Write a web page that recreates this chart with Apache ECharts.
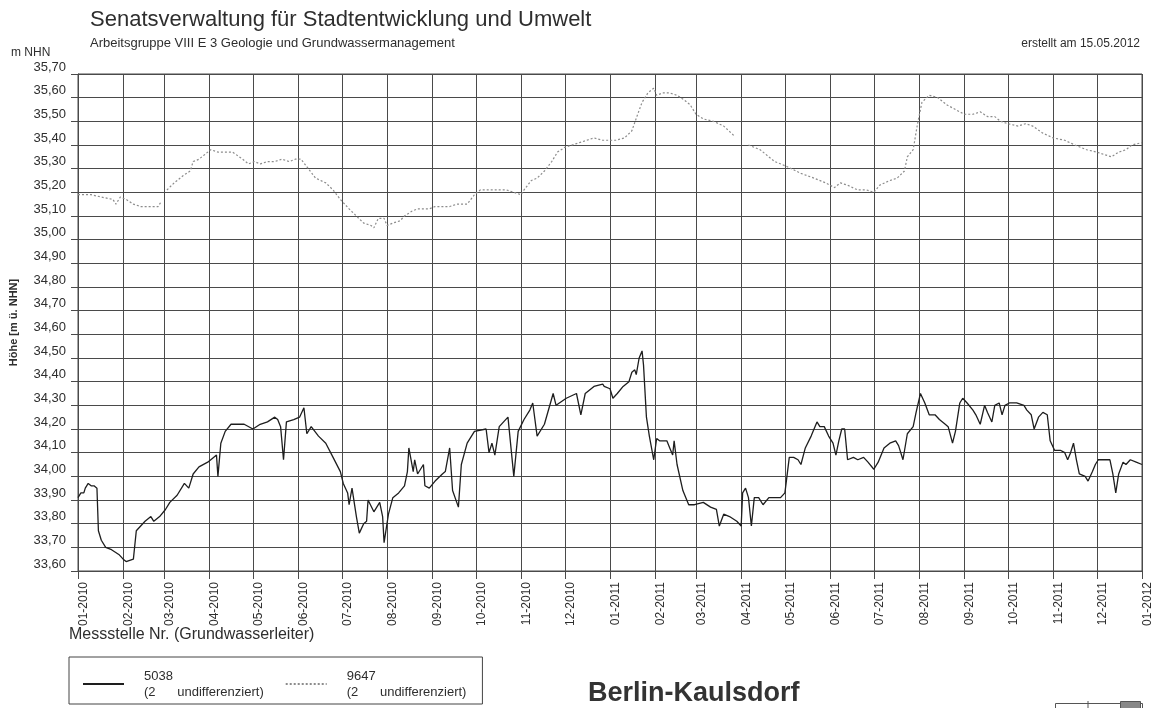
<!DOCTYPE html>
<html>
<head>
<meta charset="utf-8">
<script src="https://cdn.jsdelivr.net/npm/echarts@6/dist/echarts.min.js"></script>
<style>
html,body{margin:0;padding:0;background:#fff;}
#chart{width:1168px;height:708px;}
</style>
</head>
<body>
<div id="chart"></div>
<script>
// Month starts (days since 2010-01-01) and their tick labels
const monthStartDays = [0,31,59,90,120,151,181,212,243,273,304,334,365,396,424,455,485,516,546,577,608,638,669,699,730];
const monthLabels = ['01-2010','02-2010','03-2010','04-2010','05-2010','06-2010','07-2010','08-2010','09-2010','10-2010','11-2010','12-2010',
                     '01-2011','02-2011','03-2011','04-2011','05-2011','06-2011','07-2011','08-2011','09-2011','10-2011','11-2011','12-2011','01-2012'];

// Messstelle 5038 (solid line): day since 2010-01-01, level m NHN
const lowerDay = [0,2,4,5,7,9,11,13,14,16,19,23,28,31,33,38,40,43,46,50,52,56,60,63,68,73,76,79,83,89,93,95,96,98,101,105,109,114,120,125,130,135,137,139,141,143,148,152,155,157,160,165,170,175,180,182,185,186,188,191,193,196,198,199,203,207,209,210,213,216,220,224,226,227,230,231,233,237,238,241,245,250,252,255,257,261,263,267,272,280,282,284,286,289,292,295,299,302,306,310,312,315,320,326,328,335,342,345,348,354,360,
  361,365,367,370,374,378,380,382,383,385,387,388,390,392,395,397,399,404,406,408,409,411,415,419,423,429,434,438,440,443,447,452,455,456,458,460,462,464,467,470,474,477,482,485,486,488,491,494,496,499,503,507,509,512,515,518,520,522,524,526,528,532,535,539,542,546,549,553,557,561,563,566,569,573,575,578,581,584,588,591,595,597,600,602,605,607,610,614,616,619,622,624,627,629,632,634,636,639,644,649,651,654,656,659,662,665,667,670,674,677,679,681,683,685,687,691,693,696,698,700,704,708,710,712,714,717,719,722,726,730];
const lowerLevel = [33.91,33.93,33.93,33.95,33.97,33.96,33.96,33.95,33.77,33.73,33.70,33.69,33.67,33.65,33.64,33.65,33.77,33.79,33.81,33.83,33.81,33.83,33.86,33.89,33.92,33.97,33.95,34.01,34.04,34.06,34.08,34.09,34.00,34.14,34.19,34.22,34.22,34.22,34.20,34.22,34.23,34.25,34.24,34.21,34.07,34.23,34.24,34.25,34.29,34.18,34.21,34.17,34.14,34.08,34.02,33.97,33.93,33.88,33.95,33.83,33.76,33.80,33.81,33.90,33.85,33.89,33.83,33.72,33.84,33.91,33.93,33.96,34.02,34.12,34.02,34.07,34.01,34.05,33.96,33.95,33.98,34.01,34.02,34.12,33.94,33.87,34.05,34.14,34.19,34.20,34.10,34.14,34.09,34.21,34.23,34.25,34.00,34.19,34.24,34.28,34.31,34.17,34.22,34.35,34.30,34.33,34.35,34.26,34.35,34.38,34.39,
  34.38,34.37,34.33,34.35,34.38,34.40,34.44,34.45,34.43,34.50,34.53,34.47,34.25,34.17,34.07,34.16,34.15,34.15,34.12,34.09,34.15,34.05,33.94,33.88,33.88,33.89,33.87,33.86,33.79,33.84,33.83,33.81,33.79,33.93,33.95,33.91,33.79,33.91,33.91,33.88,33.91,33.91,33.91,33.93,33.98,34.08,34.08,34.07,34.05,34.12,34.17,34.23,34.21,34.21,34.17,34.14,34.09,34.15,34.20,34.20,34.07,34.08,34.07,34.08,34.06,34.03,34.06,34.12,34.14,34.15,34.13,34.07,34.18,34.21,34.27,34.35,34.31,34.26,34.26,34.24,34.22,34.21,34.14,34.19,34.31,34.33,34.31,34.28,34.26,34.22,34.30,34.27,34.23,34.30,34.31,34.26,34.30,34.31,34.31,34.30,34.28,34.26,34.20,34.25,34.27,34.26,34.15,34.11,34.11,34.10,34.07,34.10,34.14,34.07,34.01,34.00,33.98,34.02,34.05,34.07,34.07,34.07,34.01,33.93,34.01,34.06,34.05,34.07,34.06,34.05];

// Messstelle 9647 (dotted line): day since 2010-01-01, level m NHN (null = no data)
const upperDay = [0,9,16,24,26,29,33,38,43,50,55,57,59,61,66,72,77,79,83,87,91,96,101,106,113,117,121,125,130,135,140,145,149,153,158,163,170,175,180,186,191,196,201,203,206,210,212,216,221,224,229,233,241,245,250,255,260,267,272,276,282,289,294,299,304,306,311,315,320,325,329,334,339,344,349,354,360,
  365,369,375,380,384,387,391,395,397,401,406,411,416,420,424,429,436,443,450,455,460,468,478,486,496,505,513,519,523,528,535,541,546,550,557,562,567,569,573,576,579,584,590,596,602,608,614,619,624,629,633,638,645,650,655,662,669,677,684,692,699,704,709,714,719,723,730];
const upperLevel = [35.19,35.19,35.18,35.17,35.15,35.18,35.17,35.15,35.14,35.14,35.14,35.16,null,35.21,35.24,35.27,35.29,35.33,35.34,35.36,35.38,35.37,35.37,35.37,35.34,35.32,35.33,35.32,35.33,35.33,35.34,35.33,35.34,35.34,35.30,35.26,35.24,35.21,35.17,35.13,35.10,35.07,35.06,35.05,35.09,35.09,35.06,35.07,35.08,35.10,35.12,35.13,35.13,35.14,35.14,35.14,35.15,35.15,35.19,35.21,35.21,35.21,35.21,35.20,35.19,35.21,35.25,35.26,35.29,35.33,35.37,35.39,35.40,35.41,35.42,35.43,35.42,
  35.42,35.42,35.43,35.46,35.53,35.58,35.62,35.64,35.61,35.62,35.62,35.61,35.59,35.57,35.53,35.51,35.50,35.48,35.44,null,35.40,35.38,35.33,35.31,35.28,35.26,35.24,35.22,35.24,35.23,35.21,35.21,35.20,35.23,35.25,35.26,35.29,35.35,35.38,35.49,35.58,35.61,35.60,35.57,35.55,35.53,35.53,35.54,35.52,35.52,35.50,35.49,35.48,35.49,35.48,35.45,35.43,35.42,35.40,35.38,35.37,35.36,35.35,35.37,35.38,35.40,35.41];

const categories = [];
for (let i = 0; i <= 730; i++) categories.push(i);
const isMonthStart = (idx) => monthStartDays.indexOf(idx) >= 0;

const FONT = '"Liberation Sans", Arial, Helvetica, sans-serif';
const GRID = '#4a4a4a';
const TXT = '#2e2e2e';

const chart = echarts.init(document.getElementById('chart'));
chart.setOption({
  animation: false,
  backgroundColor: '#ffffff',
  textStyle: { fontFamily: FONT },
  title: [
    { text: 'Senatsverwaltung für Stadtentwicklung und Umwelt', left: 90, top: 9, padding: 0,
      textStyle: { fontSize: 22, fontWeight: 'normal', color: TXT, fontFamily: FONT } },
    { text: 'Arbeitsgruppe VIII E 3 Geologie und Grundwassermanagement', left: 90, top: 37, padding: 0,
      textStyle: { fontSize: 13, fontWeight: 'normal', color: TXT, fontFamily: FONT } },
    { text: 'm NHN', left: 11, top: 47, padding: 0,
      textStyle: { fontSize: 12, fontWeight: 'normal', color: TXT, fontFamily: FONT } },
    { text: 'erstellt am 15.05.2012', right: 28, top: 38, padding: 0,
      textStyle: { fontSize: 12, fontWeight: 'normal', color: TXT, fontFamily: FONT } },
    { text: 'Messstelle Nr. (Grundwasserleiter)', left: 69, top: 627, padding: 0,
      textStyle: { fontSize: 16, fontWeight: 'normal', color: TXT, fontFamily: FONT } },
    { text: 'Berlin-Kaulsdorf', left: 588, top: 680, padding: 0,
      textStyle: { fontSize: 27, fontWeight: 'bold', color: '#333', fontFamily: FONT } }
  ],
  legend: {
    left: 69, top: 657,
    padding: [11, 16, 4, 13],
    borderColor: '#444', borderWidth: 1,
    itemWidth: 41, itemHeight: 14, itemGap: 21,
    data: ['5038', '9647'],
    itemStyle: { opacity: 0, borderWidth: 0 },
    formatter: (name) => name + '\n(2      undifferenziert)',
    textStyle: { fontSize: 13, lineHeight: 16, color: TXT, fontFamily: FONT, padding: [0, 0, 0, 15] }
  },
  grid: { left: 74, right: 26, top: 74, bottom: 137, show: true, borderColor: GRID, borderWidth: 1, containLabel: false },
  xAxis: {
    type: 'category',
    data: categories,
    boundaryGap: false,
    axisLine: { show: true, lineStyle: { color: GRID, width: 1 } },
    axisTick: { show: true, length: 8, interval: (idx) => isMonthStart(idx), lineStyle: { color: GRID } },
    splitLine: { show: true, interval: (idx) => isMonthStart(idx), lineStyle: { color: GRID, width: 1 } },
    axisLabel: {
      interval: (idx) => isMonthStart(idx),
      formatter: (v, idx) => monthLabels[monthStartDays.indexOf(Number(v))] || '',
      rotate: 90, margin: 11, fontSize: 12, color: TXT, fontFamily: FONT,
      verticalAlign: 'top', align: 'right',
      showMinLabel: true, showMaxLabel: true
    }
  },
  yAxis: {
    type: 'value',
    min: 33.6, max: 35.7, interval: 0.1,
    name: 'Höhe [m ü. NHN]',
    nameLocation: 'middle', nameRotate: 90, nameGap: 59,
    nameTextStyle: { fontSize: 11, fontWeight: 'bold', color: TXT, fontFamily: FONT },
    axisLine: { show: true, lineStyle: { color: GRID, width: 1 } },
    axisTick: { show: true, length: 7, lineStyle: { color: GRID } },
    splitLine: { show: true, lineStyle: { color: GRID, width: 1 } },
    axisLabel: {
      formatter: (v) => v.toFixed(2).replace('.', ','),
      fontSize: 13, color: TXT, fontFamily: FONT, margin: 12,
      verticalAlign: 'bottom', lineHeight: 14
    }
  },
  series: [
    {
      name: '5038', type: 'line', symbol: 'none', showSymbol: false,
      data: lowerDay.map((d, i) => [d, lowerLevel[i]]),
      lineStyle: { color: '#1e1e1e', width: 1.3 },
      itemStyle: { color: '#1e1e1e' },
      z: 3
    },
    {
      name: '9647', type: 'line', symbol: 'none', showSymbol: false, connectNulls: false,
      data: upperDay.map((d, i) => [d, upperLevel[i]]),
      lineStyle: { color: '#8c8c8c', width: 1.2, type: [2, 2] },
      itemStyle: { color: '#8c8c8c' },
      z: 2
    }
  ],
  graphic: [
    { type: 'rect', left: 1053, top: 701, shape: { width: 87, height: 9 }, style: { fill: 'none', stroke: '#555', lineWidth: 1 }, silent: true },
    { type: 'rect', left: 1120, top: 701, shape: { width: 20, height: 9 }, style: { fill: '#888', stroke: '#555', lineWidth: 1 }, silent: true },
    { type: 'line', shape: { x1: 1088, y1: 701, x2: 1088, y2: 710 }, style: { stroke: '#555', lineWidth: 1 }, silent: true }
  ]
});
</script>
</body>
</html>
